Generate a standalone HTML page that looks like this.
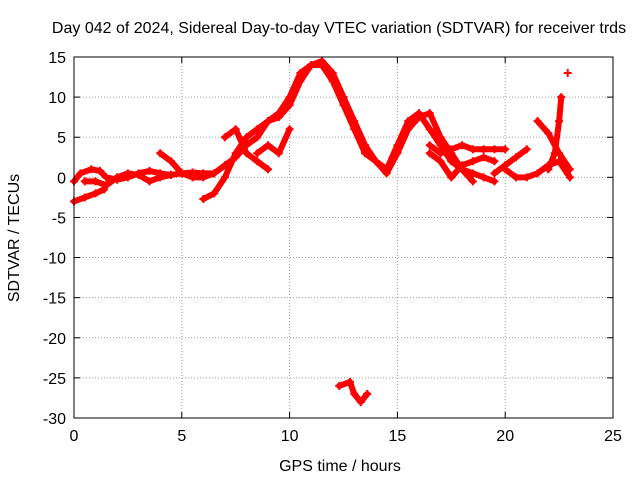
<!DOCTYPE html>
<html><head><meta charset="utf-8"><style>
body{margin:0;background:#fff;}
svg text{font-family:"Liberation Sans",sans-serif;font-size:16px;fill:#000;}
</style></head><body>
<svg id="chart" width="640" height="480" xmlns="http://www.w3.org/2000/svg">
<rect width="640" height="480" fill="#fff"/>
<text x="339" y="33" text-anchor="middle">Day 042 of 2024, Sidereal Day-to-day VTEC variation (SDTVAR) for receiver trds</text>
<text x="340" y="471" text-anchor="middle">GPS time / hours</text>
<text transform="translate(19,238) rotate(-90)" text-anchor="middle">SDTVAR / TECUs</text>
<g id="grid"></g>
<g id="ticks"></g>
<g id="series"></g>
<rect x="74" y="57" width="539" height="361" fill="none" stroke="#000" stroke-width="1"/>
</svg>
<script>
const xTicks=[0,5,10,15,20,25];
const yTicks=[15,10,5,0,-5,-10,-15,-20,-25,-30];
const trackA=[[0,-3],[0.5,-2.5],[1,-2],[1.4,-1.5]];
const trackB=[[0,-0.5],[0.3,0.5],[0.8,1],[1.2,0.8],[1.5,0],[2,-0.3],[2.5,0],[3,0.5],[3.5,0.8],[4,0.5],[4.5,0.3],[5,0.5],[5.5,0.6],[6,0.5],[6.5,0.5]];
const trackC=[[0.5,-0.5],[1,-0.5],[1.5,-1],[2,0],[2.5,0.5],[3,0.3],[3.5,-0.5],[4,0],[4.5,0.3]];
const trackD=[[4,3],[4.5,2],[5,0.5],[5.5,0],[6,0],[6.5,0.5],[7,1.5],[7.5,2.5],[8,4],[8.5,5],[9,7],[9.5,8],[10,10],[10.5,13],[11,14],[11.5,14],[12,12],[12.5,9],[13,6],[13.5,3],[14,2],[14.5,1],[15,4],[15.5,7],[16,8],[16.5,6],[17,4],[17.5,2],[18,1],[18.5,0.5],[19,0],[19.5,-0.5]];
const trackE=[[6,-2.7],[6.5,-2],[7,0],[7.5,3],[8,5],[8.5,6],[9,7],[9.5,7.5],[10,9],[10.5,12],[11,14],[11.5,14.5],[12,13],[12.5,10],[13,7],[13.5,4],[14,2],[14.5,0.5],[15,3],[15.5,6],[16,7.5],[16.5,8],[17,5],[17.5,3],[18,1],[18.5,-0.5]];
const trackF=[[7,5],[7.5,6],[8,3],[8.5,2],[9,1]];
const trackG=[[8.5,3],[9,4],[9.5,3],[10,6]];
const trackH=[[16.5,3],[17,2],[17.5,0],[18,1.5],[18.5,2],[19,2.5],[19.5,2]];
const trackI=[[16.5,4],[17,3],[17.5,3.5],[18,4],[18.5,3.5],[19,3.5],[19.5,3.5],[20,3.5]];
const trackJ=[[20,1],[20.5,0],[21,0],[21.5,0.5],[22,1.5],[22.5,2],[23,0]];
const trackK=[[19.5,0.5],[20,1.5],[20.5,2.5],[21,3.5]];
const trackL=[[21.5,7],[22,5.5],[22.5,3],[23,1]];
const trackM=[[22,1],[22.3,3],[22.5,7],[22.6,10]];
const trackN=[[12.3,-26],[12.8,-25.5],[13,-27],[13.3,-28],[13.6,-27]];
const trackP=[[22.9,13]];
const tracks=[trackA,trackB,trackC,trackD,trackE,trackF,trackG,trackH,trackI,trackJ,trackK,trackL,trackM,trackN,trackP];

const X0=74,X1=613,Y0=418,Y1=57;
const xs=v=>X0+(v-0)/(25-0)*(X1-X0);
const ys=v=>Y0-(v+30)/45*(Y0-Y1);
const NS="http://www.w3.org/2000/svg";
const mk=(t,a,p)=>{const e=document.createElementNS(NS,t);for(const k in a)e.setAttribute(k,a[k]);p.appendChild(e);return e;};
const grid=document.getElementById('grid'),ticks=document.getElementById('ticks'),ser=document.getElementById('series');
xTicks.forEach(v=>{
  const x=xs(v);
  if(v>0&&v<25){const g=mk('line',{x1:x,x2:x,y1:Y0,y2:Y1,stroke:'#a0a0a0','stroke-dasharray':'1,2'},grid);
  
  }
  mk('line',{x1:x,x2:x,y1:Y0,y2:Y0-6,stroke:'#000'},ticks);
  mk('line',{x1:x,x2:x,y1:Y1,y2:Y1+6,stroke:'#000'},ticks);
  const t=mk('text',{x:x,y:Y0+23,'text-anchor':'middle'},ticks);t.textContent=v;
  
  
});
yTicks.forEach(v=>{
  const y=ys(v);
  if(v>-30&&v<15){const g=mk('line',{x1:X0,x2:X1,y1:y,y2:y,stroke:'#a0a0a0','stroke-dasharray':'1,2'},grid);
  
  }
  mk('line',{x1:X0,x2:X0+6,y1:y,y2:y,stroke:'#000'},ticks);
  mk('line',{x1:X1,x2:X1-6,y1:y,y2:y,stroke:'#000'},ticks);
  const t=mk('text',{x:X0-8,y:y+6,'text-anchor':'end'},ticks);t.textContent=v;
  
  
});
tracks.forEach(tr=>{
  const pts=tr.map(p=>xs(p[0])+','+ys(p[1])).join(' ');
  const pl=mk('polyline',{points:pts,fill:'none',stroke:'#ff0000','stroke-width':6,'stroke-linejoin':'round','stroke-linecap':'round'},ser);
  
  
  tr.forEach(p=>{
    const x=xs(p[0]),y=ys(p[1]);
    const m=mk('path',{d:`M${x-4},${y}H${x+4}M${x},${y-4}V${y+4}`,stroke:'#ff0000','stroke-width':2},ser);
    
    
  });
});
</script>
</body></html>
